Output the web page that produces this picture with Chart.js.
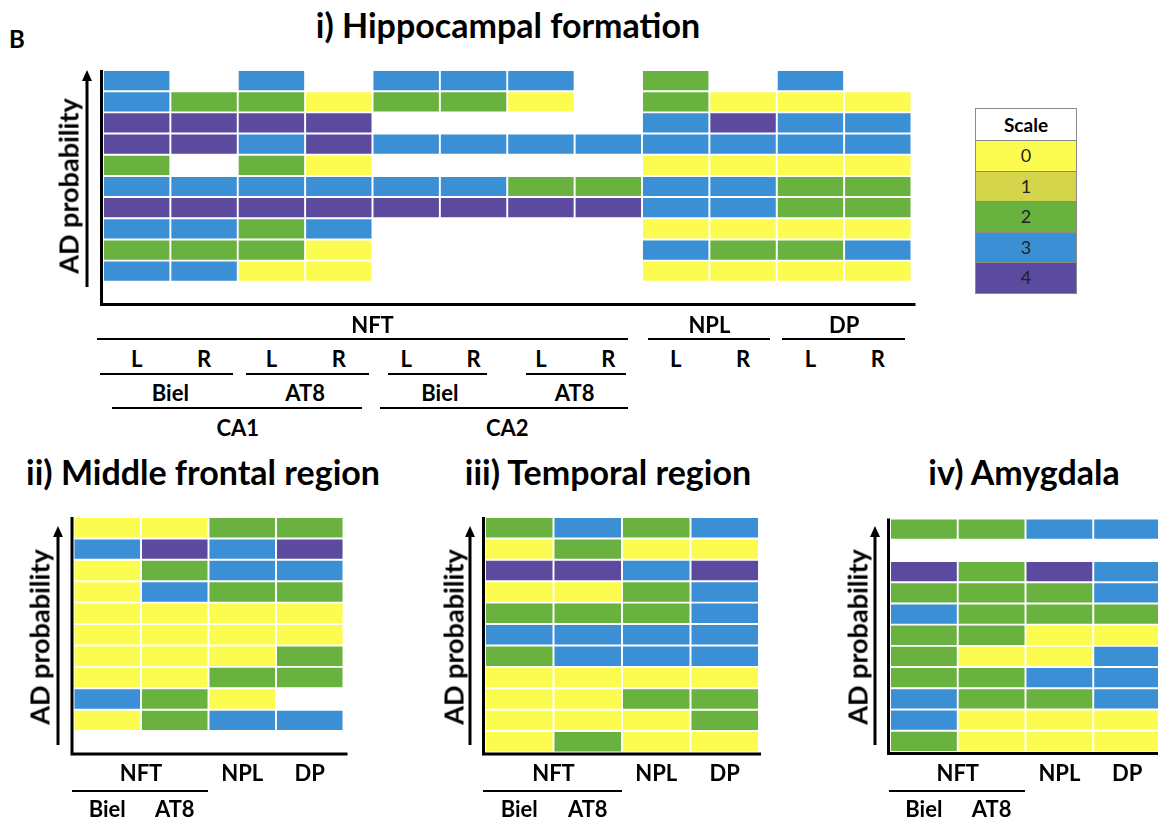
<!DOCTYPE html>
<html><head><meta charset="utf-8">
<script src="https://cdn.jsdelivr.net/npm/chart.js@4.4.1/dist/chart.umd.min.js"></script>
<style>
html,body{margin:0;padding:0;background:#fff;width:1158px;height:821px;overflow:hidden;position:relative;font-family:Lato,'Open Sans',sans-serif;}
.t{position:absolute;transform:translate(-50%,-50%);white-space:nowrap;font-weight:700;color:#000;line-height:1;}
.rot{transform:translate(-50%,-50%) rotate(-90deg);}
canvas{position:absolute;}
.hl{position:absolute;height:0;border-top:2.5px solid #000;}
#legend{position:absolute;left:975px;top:108px;width:102px;border:1.5px solid #8a8a8a;box-sizing:border-box;}
#legend div{box-sizing:border-box;text-align:center;border-top:1.5px solid #8a8a8a;color:#222;font-size:18px;}
</style></head><body>
<svg id="deco" width="1158" height="821" style="position:absolute;left:0;top:0"></svg>
<div id="legend"></div>
<script>
// ---------- DATA ----------
const PALETTE = ['#FCFC50', '#D5D54B', '#6AB23F', '#3B8FD4', '#5B4A9D'];
const scaleLabels = ['0', '1', '2', '3', '4'];
const ROW_SLOTS = 11;

// i) Hippocampal formation (rows from top to bottom)
const hippoColumns = ['CA1 Biel L','CA1 Biel R','CA1 AT8 L','CA1 AT8 R','CA2 Biel L','CA2 Biel R','CA2 AT8 L','CA2 AT8 R','NPL L','NPL R','DP L','DP R'];
const hippoSides = ['L','R','L','R','L','R','L','R','L','R','L','R'];
const hippoRows = [
  [3, null, 3, null, 3, 3, 3, null, 2, null, 3, null],
  [3, 2, 2, 0, 2, 2, 0, null, 2, 0, 0, 0],
  [4, 4, 4, 4, null, null, null, null, 3, 4, 3, 3],
  [4, 4, 3, 4, 3, 3, 3, 3, 3, 3, 3, 3],
  [2, null, 2, 0, null, null, null, null, 0, 0, 0, 0],
  [3, 3, 3, 3, 3, 3, 2, 2, 3, 3, 2, 2],
  [4, 4, 4, 4, 4, 4, 4, 4, 3, 3, 2, 2],
  [3, 3, 2, 3, null, null, null, null, 0, 0, 0, 0],
  [2, 2, 2, 0, null, null, null, null, 3, 2, 2, 3],
  [3, 3, 0, 0, null, null, null, null, 0, 0, 0, 0]
];

// ii) Middle frontal region
const frontalColumns = ['Biel', 'AT8', 'NPL', 'DP'];
const frontalRows = [
  [0, 0, 2, 2],
  [3, 4, 3, 4],
  [0, 2, 3, 3],
  [0, 3, 2, 2],
  [0, 0, 0, 0],
  [0, 0, 0, 0],
  [0, 0, 0, 2],
  [0, 0, 2, 2],
  [3, 2, 0, null],
  [0, 2, 3, 3]
];

// iii) Temporal region
const temporalColumns = ['Biel', 'AT8', 'NPL', 'DP'];
const temporalRows = [
  [2, 3, 2, 3],
  [0, 2, 0, 0],
  [4, 4, 3, 4],
  [0, 0, 2, 3],
  [2, 2, 2, 3],
  [3, 3, 3, 3],
  [2, 3, 3, 3],
  [0, 0, 0, 0],
  [0, 0, 2, 2],
  [0, 0, 0, 2],
  [0, 2, 0, 0]
];

// iv) Amygdala
const amygdalaColumns = ['Biel', 'AT8', 'NPL', 'DP'];
const amygdalaRows = [
  [2, 2, 3, 3],
  [null, null, null, null],
  [4, 2, 4, 3],
  [2, 2, 2, 3],
  [3, 2, 2, 2],
  [2, 2, 0, 0],
  [2, 0, 0, 3],
  [2, 2, 3, 3],
  [3, 2, 2, 3],
  [3, 0, 0, 0],
  [2, 0, 0, 0]
];

// ---------- HELPERS ----------
function addText(txt, x, y, size, opts = {}) {
  const d = document.createElement('div');
  d.className = 't' + (opts.rot ? ' rot' : '');
  d.textContent = txt;
  d.style.left = x + 'px';
  d.style.top = y + 'px';
  d.style.fontSize = size + 'px';
  if (opts.weight) d.style.fontWeight = opts.weight;
  document.body.appendChild(d);
}
function addLine(x1, x2, y) {
  const d = document.createElement('div');
  d.className = 'hl';
  d.style.left = x1 + 'px';
  d.style.top = (y - 1.25) + 'px';
  d.style.width = (x2 - x1) + 'px';
  document.body.appendChild(d);
}
const svg = document.getElementById('deco');
function addArrow(x, yBottom, yTop) {
  const ns = 'http://www.w3.org/2000/svg';
  const l = document.createElementNS(ns, 'line');
  l.setAttribute('x1', x); l.setAttribute('x2', x);
  l.setAttribute('y1', yBottom); l.setAttribute('y2', yTop + 8);
  l.setAttribute('stroke', '#000'); l.setAttribute('stroke-width', '3');
  svg.appendChild(l);
  const p = document.createElementNS(ns, 'polygon');
  p.setAttribute('points', `${x - 5},${yTop + 11} ${x + 5},${yTop + 11} ${x},${yTop}`);
  p.setAttribute('fill', '#000');
  svg.appendChild(p);
}

const axesPlugin = {
  id: 'axesLines',
  afterDraw(chart, args, opts) {
    const { ctx, chartArea: a } = chart;
    ctx.save();
    ctx.strokeStyle = '#000';
    ctx.lineWidth = 3;
    ctx.beginPath();
    ctx.moveTo(a.left - 1.5, a.top);
    ctx.lineTo(a.left - 1.5, a.bottom + 1.5);
    ctx.lineTo(a.right + (opts.extend || 3), a.bottom + 1.5);
    ctx.stroke();
    ctx.restore();
  }
};

function makeHeatmap(box, columns, rows, pad, extend) {
  const c = document.createElement('canvas');
  c.width = box.w; c.height = box.h;
  c.style.left = box.x + 'px'; c.style.top = box.y + 'px';
  c.style.width = box.w + 'px'; c.style.height = box.h + 'px';
  document.body.appendChild(c);
  const datasets = rows.map((row, r) => ({
    data: row.map(v => v === null ? null : [ROW_SLOTS - r - 1, ROW_SLOTS - r]),
    backgroundColor: row.map(v => v === null ? 'rgba(0,0,0,0)' : PALETTE[v]),
    borderColor: '#ffffff',
    borderWidth: 1.3,
    borderSkipped: false,
    barPercentage: 1,
    categoryPercentage: 1,
    grouped: false
  }));
  const chart = new Chart(c.getContext('2d'), {
    type: 'bar',
    data: { labels: columns, datasets },
    options: {
      responsive: false,
      animation: false,
      devicePixelRatio: 1,
      layout: { padding: pad },
      plugins: { legend: { display: false }, tooltip: { enabled: false }, axesLines: { extend } },
      scales: {
        x: { display: false },
        y: { display: false, min: 0, max: ROW_SLOTS }
      }
    },
    plugins: [axesPlugin]
  });
  chart.colX = i => box.x + chart.scales.x.getPixelForValue(i);
  return chart;
}

// ---------- TITLES ----------
const TS = 34;
addText('B', 17, 39, 24);
addText('i) Hippocampal formation', 508, 25, TS);
addText('ii) Middle frontal region', 203, 472, TS);
addText('iii) Temporal region', 608, 472, TS);
addText('iv) Amygdala', 1024, 472, TS);

// ---------- PANEL i ----------
const hippo = makeHeatmap({ x: 80, y: 60, w: 850, h: 260 }, hippoColumns, hippoRows,
  { left: 23, right: 18.5, top: 10, bottom: 17 }, 4);
addArrow(87, 287, 70);
const AS = 27;
addText('AD probability', 68, 186, AS, { rot: true });
const LS = 22;
hippoSides.forEach((s, i) => addText(s, hippo.colX(i), 359, LS));
const mid = (a, b) => (hippo.colX(a) + hippo.colX(b)) / 2;
addText('NFT', mid(0, 7), 325, LS);
addText('NPL', mid(8, 9), 325, LS);
addText('DP', mid(10, 11), 325, LS);
addText('Biel', mid(0, 1), 393, LS);
addText('AT8', mid(2, 3), 393, LS);
addText('Biel', mid(4, 5), 393, LS);
addText('AT8', mid(6, 7), 393, LS);
addText('CA1', mid(0, 3), 428, LS);
addText('CA2', mid(4, 7), 428, LS);
addLine(97, 628, 339); addLine(648, 770, 339); addLine(782, 905, 339);
addLine(100, 233, 374); addLine(246, 369, 374); addLine(388, 487, 374); addLine(526, 626, 374);
addLine(112, 362, 408); addLine(380, 628, 408);

// ---------- PANELS ii - iv ----------
function smallPanel(chart, arrowX, textX, lineX1, lineX2) {
  addArrow(arrowX, 745, 526);
  addText('AD probability', textX, 637, AS, { rot: true });
  addText('NFT', (chart.colX(0) + chart.colX(1)) / 2, 773, LS);
  addText('NPL', chart.colX(2), 773, LS);
  addText('DP', chart.colX(3), 773, LS);
  addLine(lineX1, lineX2, 791);
  addText('Biel', chart.colX(0), 809, LS);
  addText('AT8', chart.colX(1), 809, LS);
}
const frontal = makeHeatmap({ x: 50, y: 500, w: 310, h: 270 }, frontalColumns, frontalRows,
  { left: 23.5, right: 16.5, top: 17, bottom: 17.5 }, 4);
smallPanel(frontal, 58, 39, 72, 208);
const temporal = makeHeatmap({ x: 460, y: 500, w: 310, h: 270 }, temporalColumns, temporalRows,
  { left: 25, right: 11, top: 17, bottom: 17.5 }, 2);
smallPanel(temporal, 470, 453, 483, 622);
const amyg = makeHeatmap({ x: 865, y: 500, w: 310, h: 270 }, amygdalaColumns, amygdalaRows,
  { left: 25, right: 14, top: 18.5, bottom: 18 }, 4);
smallPanel(amyg, 875, 857, 889, 1025);

// ---------- LEGEND (colour scale) ----------
const lg = document.getElementById('legend');
const head = document.createElement('div');
head.textContent = 'Scale';
head.style.cssText = 'border-top:none;height:31px;line-height:31px;font-weight:700;color:#000;font-size:19px;background:#fff;';
lg.appendChild(head);
scaleLabels.forEach((lab, i) => {
  const d = document.createElement('div');
  d.textContent = lab;
  d.style.height = '30.5px';
  d.style.lineHeight = '29px';
  d.style.background = PALETTE[i];
  lg.appendChild(d);
});
</script>
</body></html>
